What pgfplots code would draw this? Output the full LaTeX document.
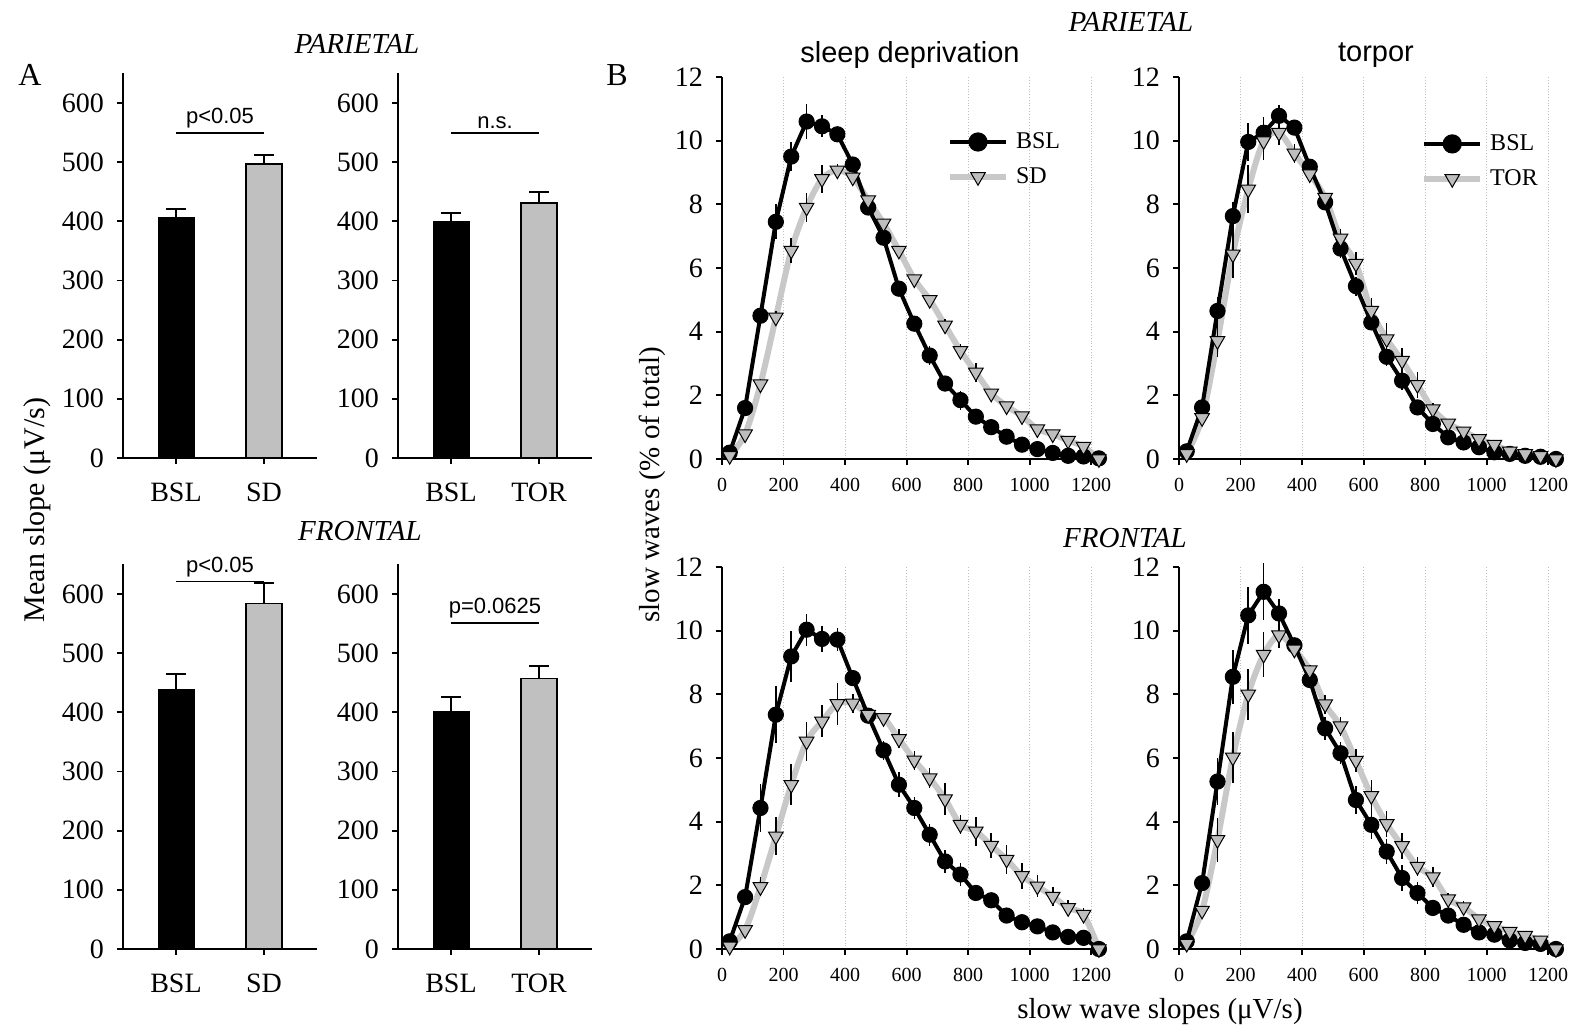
\documentclass[border=0pt]{standalone}
\usepackage{fontspec}
\setmainfont{Liberation Serif}
\newfontfamily\arial{Liberation Sans}
\usepackage{pgfplots}
\usepackage{pgfplotstable}
\pgfplotsset{compat=1.18}

\definecolor{sdGray}{RGB}{200,200,200}
\definecolor{triGray}{RGB}{190,190,190}
\definecolor{barGray}{RGB}{192,192,192}

% x, BSL mean, BSL err, SD/TOR mean, SD/TOR err
\pgfplotstableread{
x b be s se
25 0.20 0.05 0.10 0.05
75 1.60 0.15 0.78 0.10
125 4.50 0.30 2.35 0.15
175 7.45 0.55 4.45 0.20
225 9.50 0.45 6.55 0.40
275 10.60 0.55 7.90 0.45
325 10.45 0.35 8.80 0.45
375 10.20 0.20 9.07 0.20
425 9.25 0.10 8.85 0.10
475 7.90 0.15 8.13 0.10
525 6.95 0.15 7.40 0.10
575 5.35 0.20 6.55 0.10
625 4.25 0.20 5.65 0.10
675 3.25 0.30 5.00 0.10
725 2.37 0.25 4.20 0.20
775 1.85 0.30 3.40 0.20
825 1.33 0.15 2.72 0.30
875 1.00 0.10 2.06 0.10
925 0.70 0.05 1.66 0.10
975 0.45 0.05 1.35 0.10
1025 0.31 0.05 0.94 0.05
1075 0.19 0.05 0.78 0.05
1125 0.10 0.05 0.58 0.05
1175 0.08 0.05 0.39 0.05
1225 0.02 0.00 0.00 0.00
}\parSD

\pgfplotstableread{
x b be s se
25 0.24 0.05 0.16 0.05
75 1.62 0.10 1.29 0.10
125 4.65 0.45 3.71 0.50
175 7.63 0.45 6.43 0.75
225 9.96 0.60 8.47 0.75
275 10.25 0.50 9.99 0.60
325 10.78 0.35 10.25 0.40
375 10.41 0.15 9.60 0.30
425 9.18 0.10 8.95 0.10
475 8.06 0.15 8.21 0.15
525 6.61 0.30 6.93 0.30
575 5.43 0.30 6.14 0.35
625 4.29 0.20 4.66 0.40
675 3.21 0.30 3.77 0.50
725 2.46 0.30 3.09 0.40
775 1.62 0.15 2.33 0.40
825 1.10 0.10 1.57 0.20
875 0.68 0.10 1.12 0.15
925 0.52 0.05 0.87 0.15
975 0.37 0.05 0.63 0.10
1025 0.21 0.05 0.45 0.05
1075 0.16 0.05 0.24 0.05
1125 0.10 0.05 0.16 0.05
1175 0.07 0.05 0.10 0.05
1225 0.00 0.00 0.00 0.00
}\parTOR

\pgfplotstableread{
x b be s se
25 0.24 0.05 0.08 0.05
75 1.63 0.20 0.60 0.10
125 4.43 0.75 1.95 0.30
175 7.36 0.90 3.54 0.60
225 9.19 0.80 5.16 0.65
275 10.03 0.50 6.52 0.60
325 9.74 0.40 7.15 0.50
375 9.72 0.35 7.70 0.65
425 8.51 0.15 7.72 0.30
475 7.33 0.15 7.36 0.15
525 6.24 0.30 7.26 0.15
575 5.16 0.40 6.60 0.30
625 4.43 0.35 5.93 0.30
675 3.59 0.35 5.37 0.30
725 2.75 0.35 4.71 0.50
775 2.34 0.35 3.91 0.30
825 1.76 0.20 3.70 0.45
875 1.53 0.15 3.25 0.40
925 1.05 0.10 2.81 0.45
975 0.84 0.10 2.30 0.40
1025 0.71 0.10 1.97 0.35
1075 0.52 0.10 1.65 0.30
1125 0.38 0.05 1.29 0.25
1175 0.35 0.05 1.08 0.20
1225 0.00 0.00 0.00 0.00
}\froSD

\pgfplotstableread{
x b be s se
25 0.24 0.05 0.17 0.05
75 2.07 0.20 1.21 0.10
125 5.26 0.75 3.43 0.70
175 8.55 0.85 6.02 0.80
225 10.48 0.90 8.00 0.80
275 11.22 0.90 9.25 0.70
325 10.54 0.45 9.86 0.40
375 9.54 0.15 9.41 0.15
425 8.45 0.15 8.76 0.15
475 6.93 0.35 7.69 0.30
525 6.15 0.35 7.00 0.30
575 4.68 0.45 5.92 0.35
625 3.90 0.45 4.81 0.50
675 3.06 0.40 3.93 0.40
725 2.23 0.40 3.24 0.40
775 1.76 0.35 2.59 0.30
825 1.29 0.25 2.26 0.30
875 1.05 0.15 1.57 0.20
925 0.76 0.15 1.32 0.20
975 0.52 0.10 0.94 0.10
1025 0.45 0.10 0.73 0.10
1075 0.27 0.05 0.55 0.05
1125 0.19 0.05 0.42 0.05
1175 0.16 0.05 0.27 0.05
1225 0.00 0.00 0.00 0.00
}\froTOR

\tikzset{sig/.style={font=\arial\fontsize{11}{11}\selectfont, above=2pt, inner sep=0pt}}

\pgfplotsset{
  base/.style={
    scale only axis, clip=false,
    axis x line*=bottom, axis y line*=left,
    axis line style={-, line width=0.9pt},
    tick align=outside, major tick length=3pt,
    tick style={black, line width=0.9pt},
    /pgf/number format/assume math mode=true,
    /pgf/number format/1000 sep={},
    yticklabel style={font=\rmfamily\fontsize{14}{14}\selectfont, xshift=-3pt},
  },
  bars/.style={
    base, width=97pt, height=192.3pt,
    xmin=-0.602, xmax=1.602, ymin=0, ymax=650,
    ytick={0,100,...,600}, xtick={0,1},
    xticklabel style={font=\rmfamily\fontsize{14}{14}\selectfont, yshift=-6pt},
  },
  lines/.style={
    base, width=190.3pt, height=191pt,
    xmin=0, xmax=1237, ymin=0, ymax=12,
    xtick={0,200,...,1200}, ytick={0,2,...,12},
    xmajorgrids, grid style={densely dotted, gray!50, line width=0.5pt},
    xticklabel style={font=\rmfamily\fontsize{10}{10}\selectfont, yshift=-3pt},
    legend style={draw=none, fill=none, inner sep=0pt,
      font=\fontsize{12}{12}\selectfont, row sep=6pt,
      nodes={inner sep=1pt, anchor=west},
      /tikz/every odd column/.append style={column sep=2.5pt}},
    legend cell align=left,
    legend image code/.code={\draw[mark repeat=2, mark phase=2, ##1]
      plot coordinates {(0pt,0pt) (14pt,0pt) (28pt,0pt)};},
  },
  barerr/.style={
    error bars/y dir=plus, error bars/y explicit,
    error bars/error bar style={black, line width=1pt},
    error bars/error mark options={black, line width=1pt, rotate=90, mark size=5pt}},
  lineerr/.style={
    error bars/y dir=both, error bars/y explicit,
    error bars/error mark=none,
    error bars/error bar style={black, line width=0.8pt}},
  bslbar/.style={ybar, bar width=18pt, fill=black, draw=black, barerr},
  grpbar/.style={ybar, bar width=18pt, fill=barGray, draw=black, line width=0.8pt, barerr},
  bslline/.style={black, line width=2pt, mark=*, mark size=3.8pt,
    mark options={fill=black, line width=0.5pt}, lineerr},
  grpline/.style={sdGray, line width=3pt, smooth, no marks},
  grpmarks/.style={only marks, mark=triangle*, mark size=4.2pt,
    mark options={rotate=180, fill=triGray, draw=black, line width=0.5pt}, lineerr},
}

\begin{document}
\begin{tikzpicture}
\path (0pt,0pt) rectangle (788pt,516pt);

% ---- panel A ----
\begin{axis}[bars, at={(61.5pt,287pt)}, anchor=south west, xticklabels={BSL,SD}]
\addplot[bslbar] coordinates {(0,407) +- (0,13)};
\addplot[grpbar] coordinates {(1,497) +- (0,15)};
\draw[line width=0.8pt] (axis cs:0,549) -- node[sig] {p<0.05} (axis cs:1,549);
\end{axis}

\begin{axis}[bars, at={(199pt,287pt)}, anchor=south west, xticklabels={BSL,TOR}]
\addplot[bslbar] coordinates {(0,400) +- (0,14)};
\addplot[grpbar] coordinates {(1,431) +- (0,19)};
\draw[line width=0.8pt] (axis cs:0,549) -- node[sig] {n.s.} (axis cs:1,549);
\end{axis}

\begin{axis}[bars, at={(61.5pt,41.5pt)}, anchor=south west, xticklabels={BSL,SD}]
\addplot[bslbar] coordinates {(0,439) +- (0,25)};
\addplot[grpbar] coordinates {(1,584) +- (0,34)};
\draw[line width=0.8pt] (axis cs:0,621) -- node[sig] {p<0.05} (axis cs:1,621);
\end{axis}

\begin{axis}[bars, at={(199pt,41.5pt)}, anchor=south west, xticklabels={BSL,TOR}]
\addplot[bslbar] coordinates {(0,402) +- (0,24)};
\addplot[grpbar] coordinates {(1,457) +- (0,22)};
\draw[line width=0.8pt] (axis cs:0,551) -- node[sig] {p=0.0625} (axis cs:1,551);
\end{axis}

% ---- panel B ----
\begin{axis}[lines, at={(361pt,286.5pt)}, anchor=south west,
  legend style={at={(axis cs:730,9.41)}, anchor=west}]
\addplot[forget plot, grpline] table[x=x, y=s] {\parSD};
\addplot[forget plot, bslline] table[x=x, y=b, y error=be] {\parSD};
\addplot[forget plot, grpmarks] table[x=x, y=s, y error=se] {\parSD};
\addlegendimage{black, line width=2pt, mark=*, mark size=3.8pt, mark options={fill=black}}
\addlegendentry{BSL}
\addlegendimage{sdGray, line width=3pt, mark=triangle*, mark size=4.2pt,
  mark options={rotate=180, fill=triGray, draw=black, line width=0.5pt}}
\addlegendentry{SD}
\end{axis}

\begin{axis}[lines, at={(589.5pt,286.5pt)}, anchor=south west,
  legend style={at={(axis cs:786,9.35)}, anchor=west}]
\addplot[forget plot, grpline] table[x=x, y=s] {\parTOR};
\addplot[forget plot, bslline] table[x=x, y=b, y error=be] {\parTOR};
\addplot[forget plot, grpmarks] table[x=x, y=s, y error=se] {\parTOR};
\addlegendimage{black, line width=2pt, mark=*, mark size=3.8pt, mark options={fill=black}}
\addlegendentry{BSL}
\addlegendimage{sdGray, line width=3pt, mark=triangle*, mark size=4.2pt,
  mark options={rotate=180, fill=triGray, draw=black, line width=0.5pt}}
\addlegendentry{TOR}
\end{axis}

\begin{axis}[lines, at={(361pt,41.5pt)}, anchor=south west]
\addplot[grpline] table[x=x, y=s] {\froSD};
\addplot[bslline] table[x=x, y=b, y error=be] {\froSD};
\addplot[grpmarks] table[x=x, y=s, y error=se] {\froSD};
\end{axis}

\begin{axis}[lines, at={(589.5pt,41.5pt)}, anchor=south west]
\addplot[grpline] table[x=x, y=s] {\froTOR};
\addplot[bslline] table[x=x, y=b, y error=be] {\froTOR};
\addplot[grpmarks] table[x=x, y=s, y error=se] {\froTOR};
\end{axis}

% ---- labels ----
\node[font=\fontsize{16}{16}\selectfont] at (15pt,478.5pt) {A};
\node[font=\fontsize{16}{16}\selectfont] at (308.5pt,478.5pt) {B};
\node[font=\itshape\fontsize{14.5}{14.5}\selectfont] at (178.5pt,494pt) {PARIETAL};
\node[font=\itshape\fontsize{14.5}{14.5}\selectfont] at (180pt,250.5pt) {FRONTAL};
\node[font=\itshape\fontsize{14.5}{14.5}\selectfont] at (565.5pt,505pt) {PARIETAL};
\node[font=\itshape\fontsize{14.5}{14.5}\selectfont] at (562.5pt,247pt) {FRONTAL};
\node[font=\arial\fontsize{14.5}{14.5}\selectfont] at (455pt,488.5pt) {sleep deprivation};
\node[font=\arial\fontsize{14.5}{14.5}\selectfont] at (688pt,488.5pt) {torpor};
\node[font=\fontsize{15}{15}\selectfont, rotate=90] at (18.5pt,261pt) {Mean slope (μV/s)};
\node[font=\fontsize{14.5}{14.5}\selectfont, rotate=90] at (326pt,273.5pt) {slow waves (\% of total)};
\node[font=\fontsize{14.5}{14.5}\selectfont] at (580pt,10pt) {slow wave slopes (μV/s)};
\end{tikzpicture}
\end{document}
